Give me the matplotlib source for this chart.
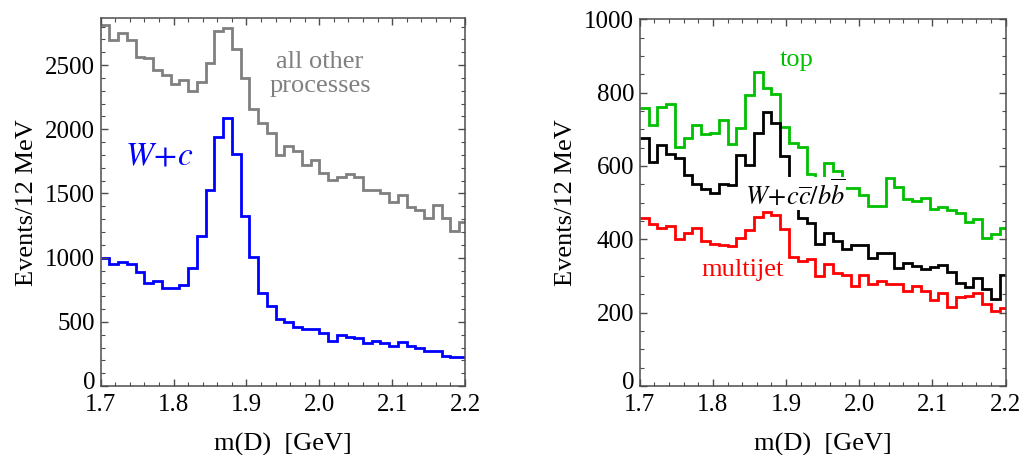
import matplotlib.pyplot as plt
import matplotlib.transforms as mtransforms
import numpy as np

plt.rcParams['font.family'] = ['Liberation Serif', 'DejaVu Serif']
plt.rcParams['mathtext.fontset'] = 'stix'

# 12 MeV bins starting at 1.7 GeV (last one runs past 2.2)
edges = 1.7 + 0.012 * np.arange(43)

# left panel
other = [2811, 2695, 2752, 2695, 2560, 2552, 2461, 2422, 2352, 2383, 2300, 2370,
         2518, 2767, 2793, 2622, 2396, 2155, 2046, 1973, 1803, 1869, 1833, 1721,
         1760, 1656, 1604, 1630, 1651, 1625, 1526, 1526, 1506, 1436, 1488, 1397,
         1371, 1306, 1410, 1306, 1210, 1280]
wc = [999, 950, 966, 950, 890, 800, 820, 766, 766, 784, 916, 1168, 1526, 1942,
      2085, 1807, 1327, 1007, 727, 623, 525, 501, 462, 441, 441, 415, 353, 397,
      384, 371, 337, 353, 332, 312, 340, 312, 293, 275, 275, 234, 228, 223]

# right panel
top = [759, 712, 762, 768, 653, 675, 712, 687, 691, 725, 659, 703, 794, 855,
       814, 796, 707, 664, 651, 578, 550, 609, 587, 540, 540, 521, 490, 492,
       566, 542, 509, 505, 514, 482, 489, 480, 473, 446, 455, 403, 415, 430]
wccbb = [677, 612, 657, 633, 621, 575, 551, 536, 525, 551, 548, 630, 603, 691,
         748, 718, 628, 520, 457, 444, 387, 417, 395, 374, 385, 385, 348, 363,
         363, 321, 336, 328, 320, 324, 330, 310, 281, 271, 294, 265, 237, 303]
multijet = [457, 442, 430, 436, 402, 418, 430, 396, 386, 384, 381, 403, 425, 461,
            474, 466, 427, 353, 341, 346, 299, 334, 307, 302, 274, 304, 277, 287,
            279, 279, 259, 272, 260, 234, 255, 215, 242, 245, 255, 223, 205, 214]

frame = '#4d4d4d'
lw = 2.0

fig = plt.figure(figsize=(10.22, 4.55), dpi=100)
ax1 = fig.add_axes([0.0985, 0.1516, 0.3565, 0.8082])
ax2 = fig.add_axes([0.626, 0.1516, 0.358, 0.8060])


def style(ax, ymax, ymajor, yminor):
    ax.set_xlim(1.7, 2.2)
    ax.set_ylim(0, ymax)
    ax.set_xticks(np.arange(1.7, 2.21, 0.1))
    ax.set_xticklabels(['1.7', '1.8', '1.9', '2.0', '2.1', '2.2'])
    ax.set_xticks(np.arange(1.7, 2.201, 0.02), minor=True)
    ax.set_yticks(np.arange(0, ymax + 1, ymajor))
    ax.set_yticks(np.arange(0, ymax + 1, yminor), minor=True)
    ax.tick_params(which='both', direction='in', top=True, right=True,
                   color=frame, labelsize=18, labelcolor='black')
    ax.tick_params(which='major', length=5, width=1)
    ax.tick_params(axis='y', which='major', pad=4)
    ax.tick_params(axis='x', which='major', pad=6)
    ax.tick_params(which='minor', length=3, width=0.8)
    for s in ax.spines.values():
        s.set_color(frame)
        s.set_linewidth(1.1)
    ax.set_xlabel('m(D)  [GeV]', fontsize=19, labelpad=12)
    ax.set_ylabel('Events/12 MeV', fontsize=19, labelpad=5)
    # lift the "0" a touch so it clears the 1.7 below it
    zero = ax.yaxis.get_major_ticks()[0].label1
    zero.set_transform(zero.get_transform() +
                       mtransforms.ScaledTranslation(0, 4 / 72, fig.dpi_scale_trans))


ax1.stairs(other, edges, baseline=None, color='#808080', lw=lw)
ax1.stairs(wc, edges, baseline=None, color='#0000ff', lw=lw)
style(ax1, 2865, 500, 100)
ax1.text(2.001, 2430, 'all other\nprocesses', color='#808080', fontsize=19,
         ha='center', va='center', linespacing=1.1)
ax1.text(1.781, 1790, r'$W\!+\!c$', color='#0000ff', fontsize=24,
         ha='center', va='center')

ax2.stairs(top, edges, baseline=None, color='#00c000', lw=lw)
ax2.stairs(wccbb, edges, baseline=None, color='black', lw=lw)
ax2.stairs(multijet, edges, baseline=None, color='#ff0000', lw=lw)
style(ax2, 1000, 200, 50)
ax2.text(1.914, 889, 'top', color='#00c000', fontsize=19, ha='center', va='center')
ax2.text(1.912, 524, r'$W\!+\!c\overline{c}/b\overline{b}$', color='black',
         fontsize=19, ha='center', va='center', zorder=5,
         bbox=dict(facecolor='white', edgecolor='none', pad=0.5))
ax2.text(1.841, 316, 'multijet', color='#ff0000', fontsize=19, ha='center',
         va='center')

fig.savefig('out.png', dpi=100)
